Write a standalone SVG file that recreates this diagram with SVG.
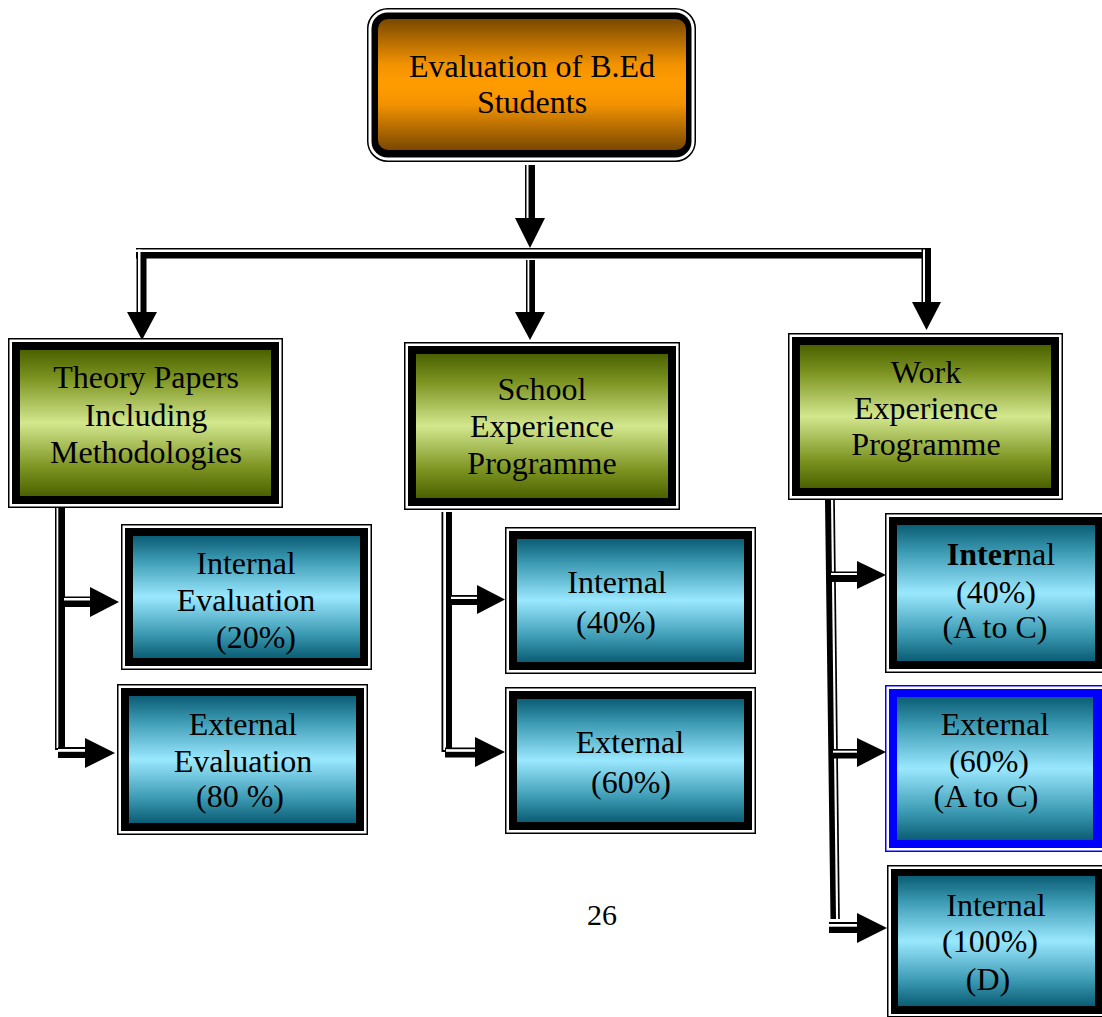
<svg xmlns="http://www.w3.org/2000/svg" width="1102" height="1017" viewBox="0 0 1102 1017">
<defs>
<linearGradient id="gOrange" x1="0" y1="0" x2="0" y2="1">
<stop offset="0" stop-color="#7a4800"/>
<stop offset="0.35" stop-color="#f39300"/>
<stop offset="0.5" stop-color="#ff9c00"/>
<stop offset="0.65" stop-color="#f39300"/>
<stop offset="1" stop-color="#7a4800"/>
</linearGradient>
<linearGradient id="gGreen" x1="0" y1="0" x2="0" y2="1">
<stop offset="0" stop-color="#4b6100"/>
<stop offset="0.2" stop-color="#7e9523"/>
<stop offset="0.5" stop-color="#d3e78e"/>
<stop offset="0.8" stop-color="#7e9523"/>
<stop offset="1" stop-color="#4b6100"/>
</linearGradient>
<linearGradient id="gTeal" x1="0" y1="0" x2="0" y2="1">
<stop offset="0" stop-color="#0a5d74"/>
<stop offset="0.2" stop-color="#3d9bb4"/>
<stop offset="0.5" stop-color="#9ae8fe"/>
<stop offset="0.8" stop-color="#3d9bb4"/>
<stop offset="1" stop-color="#0a5d74"/>
</linearGradient>
</defs>
<style>
.outer{fill:#fff;stroke:#000;stroke-width:1.5}
.frame{fill:#000}
.outerB{fill:#fff;stroke:#0000ff;stroke-width:1.5}
.frameB{fill:#0000ff}
.og{fill:url(#gOrange)}
.gg{fill:url(#gGreen)}
.tg{fill:url(#gTeal)}
.t{font-family:"Liberation Serif","Times New Roman",serif;font-size:32px;fill:#000;text-anchor:middle}
.k{fill:#000}
.w{fill:#fff}
</style>

<g id="connectors">
<rect class="k" x="525" y="165" width="10" height="54"/>
<rect class="w" x="526.5" y="165" width="2" height="54"/>
<polygon class="k" points="515,218 545,218 530,248"/>
<rect class="k" x="136" y="248" width="795" height="10.5"/>
<rect class="w" x="136" y="249.5" width="786" height="2.5"/>
<rect class="k" x="136.5" y="258" width="10" height="55"/>
<rect class="w" x="138" y="249.5" width="2.5" height="63.5"/>
<polygon class="k" points="127,312 157,312 142,340"/>
<rect class="k" x="526" y="260" width="9" height="53"/>
<rect class="w" x="527.5" y="260" width="1.8" height="53"/>
<polygon class="k" points="515,312 545,312 530,340"/>
<rect class="k" x="921.5" y="248" width="9.5" height="55"/>
<rect class="w" x="923" y="249.5" width="2" height="53.5"/>
<polygon class="k" points="912,302 941,302 926.5,330"/>

<rect class="k" x="55" y="508" width="10" height="242"/>
<rect class="w" x="56.5" y="508" width="1.8" height="240"/>
<rect class="k" x="64" y="596.5" width="28" height="10.5"/>
<rect class="w" x="64" y="598" width="28" height="2.5"/>
<polygon class="k" points="90,587 90,617 119,602"/>
<rect class="k" x="58" y="747" width="30" height="11"/>
<rect class="w" x="58" y="749" width="30" height="2.8"/>
<polygon class="k" points="85,738 85,768 115,753"/>

<rect class="k" x="441.5" y="512" width="10.5" height="240"/>
<rect class="w" x="443.3" y="512" width="2.7" height="238"/>
<rect class="k" x="451" y="595" width="28" height="10"/>
<rect class="w" x="451" y="596.8" width="28" height="2.2"/>
<polygon class="k" points="477,585 477,614 505,599.5"/>
<rect class="k" x="445" y="747.5" width="33" height="10"/>
<rect class="w" x="446" y="749.2" width="32" height="2.6"/>
<polygon class="k" points="475,737 475,767 505,752"/>

<polygon class="k" points="825,500 831,500 836,919 830.5,919"/>
<line x1="834" y1="500" x2="839" y2="919" stroke="#000" stroke-width="1.7"/>
<rect class="k" x="830" y="571.5" width="29" height="10.5"/>
<rect class="w" x="831" y="573" width="28" height="2"/>
<polygon class="k" points="857,561 857,589 886,575"/>
<rect class="k" x="832" y="749" width="27" height="9.5"/>
<rect class="w" x="833" y="750.7" width="26" height="2"/>
<polygon class="k" points="857,738 857,767 886,752"/>
<rect class="k" x="829" y="922" width="30" height="11"/>
<rect class="w" x="829" y="924" width="30" height="2.7"/>
<polygon class="k" points="857,913 857,943 887,928"/>
</g>

<g id="node-root">
<rect class="outer" x="367.75" y="8.75" width="327.5" height="152.5" rx="20"/>
<rect class="frame" x="371.5" y="12.5" width="320" height="145" rx="16"/>
<rect class="og" x="378" y="19" width="308" height="131" rx="10"/>
<text class="t" x="532" y="77">Evaluation of B.Ed</text>
<text class="t" x="532" y="113">Students</text>
</g>

<g id="node-theory">
<rect class="outer" x="8.75" y="338.75" width="273.5" height="168.5"/>
<rect class="frame" x="12" y="342" width="267" height="162"/>
<rect class="gg" x="20" y="350" width="251" height="146"/>
<text class="t" x="146" y="388">Theory Papers</text>
<text class="t" x="146" y="426">Including</text>
<text class="t" x="146" y="463">Methodologies</text>
</g>

<g id="node-school">
<rect class="outer" x="404.75" y="342.75" width="274.5" height="166.5"/>
<rect class="frame" x="408" y="346" width="268" height="160"/>
<rect class="gg" x="416" y="354" width="252" height="144"/>
<text class="t" x="542" y="400">School</text>
<text class="t" x="542" y="437">Experience</text>
<text class="t" x="542" y="474">Programme</text>
</g>

<g id="node-work">
<rect class="outer" x="788.75" y="333.75" width="273.5" height="165.5"/>
<rect class="frame" x="792" y="337" width="267" height="159"/>
<rect class="gg" x="800" y="345" width="251" height="143"/>
<text class="t" x="926" y="383">Work</text>
<text class="t" x="926" y="419">Experience</text>
<text class="t" x="926" y="455">Programme</text>
</g>

<g id="node-theory-internal">
<rect class="outer" x="121.75" y="524.75" width="249.5" height="144.5"/>
<rect class="frame" x="125" y="528" width="243" height="138"/>
<rect class="tg" x="133" y="536" width="227" height="122"/>
<text class="t" x="246" y="574">Internal</text>
<text class="t" x="246" y="611">Evaluation</text>
<text class="t" x="256" y="648">(20%)</text>
</g>

<g id="node-theory-external">
<rect class="outer" x="117.75" y="684.75" width="249.5" height="149.5"/>
<rect class="frame" x="121" y="688" width="243" height="143"/>
<rect class="tg" x="129" y="696" width="227" height="127"/>
<text class="t" x="243" y="735">External</text>
<text class="t" x="243" y="772">Evaluation</text>
<text class="t" x="240" y="807">(80 %)</text>
</g>

<g id="node-school-internal">
<rect class="outer" x="505.75" y="527.75" width="249.5" height="145.5"/>
<rect class="frame" x="509" y="531" width="243" height="139"/>
<rect class="tg" x="517" y="539" width="227" height="123"/>
<text class="t" x="617" y="593">Internal</text>
<text class="t" x="616" y="633">(40%)</text>
</g>

<g id="node-school-external">
<rect class="outer" x="505.75" y="687.75" width="249.5" height="145.5"/>
<rect class="frame" x="509" y="691" width="243" height="139"/>
<rect class="tg" x="517" y="699" width="227" height="123"/>
<text class="t" x="630" y="753">External</text>
<text class="t" x="631" y="793">(60%)</text>
</g>

<g id="node-work-internal">
<rect class="outer" x="885.75" y="513.75" width="220.5" height="158.5"/>
<rect class="frame" x="889" y="517" width="214" height="152"/>
<rect class="tg" x="897" y="525" width="198" height="136"/>
<text class="t" x="1001" y="565"><tspan font-weight="bold">Inter</tspan>nal</text>
<text class="t" x="996" y="603">(40%)</text>
<text class="t" x="995" y="638">(A to C)</text>
</g>

<g id="node-work-external">
<rect class="outerB" x="885.75" y="685.75" width="220.5" height="165.5"/>
<rect class="frameB" x="889" y="689" width="214" height="159"/>
<rect class="tg" x="897" y="697" width="196" height="143"/>
<text class="t" x="995" y="735">External</text>
<text class="t" x="989" y="772">(60%)</text>
<text class="t" x="986" y="807">(A to C)</text>
</g>

<g id="node-work-internal100">
<rect class="outer" x="887.75" y="865.75" width="218.5" height="151"/>
<rect class="frame" x="891" y="869" width="212" height="145"/>
<rect class="tg" x="898" y="876" width="197" height="130"/>
<text class="t" x="996" y="916">Internal</text>
<text class="t" x="990" y="952">(100%)</text>
<text class="t" x="988" y="990">(D)</text>
</g>

<text id="page-number" class="t" x="602" y="925" style="font-size:30px">26</text>
</svg>
